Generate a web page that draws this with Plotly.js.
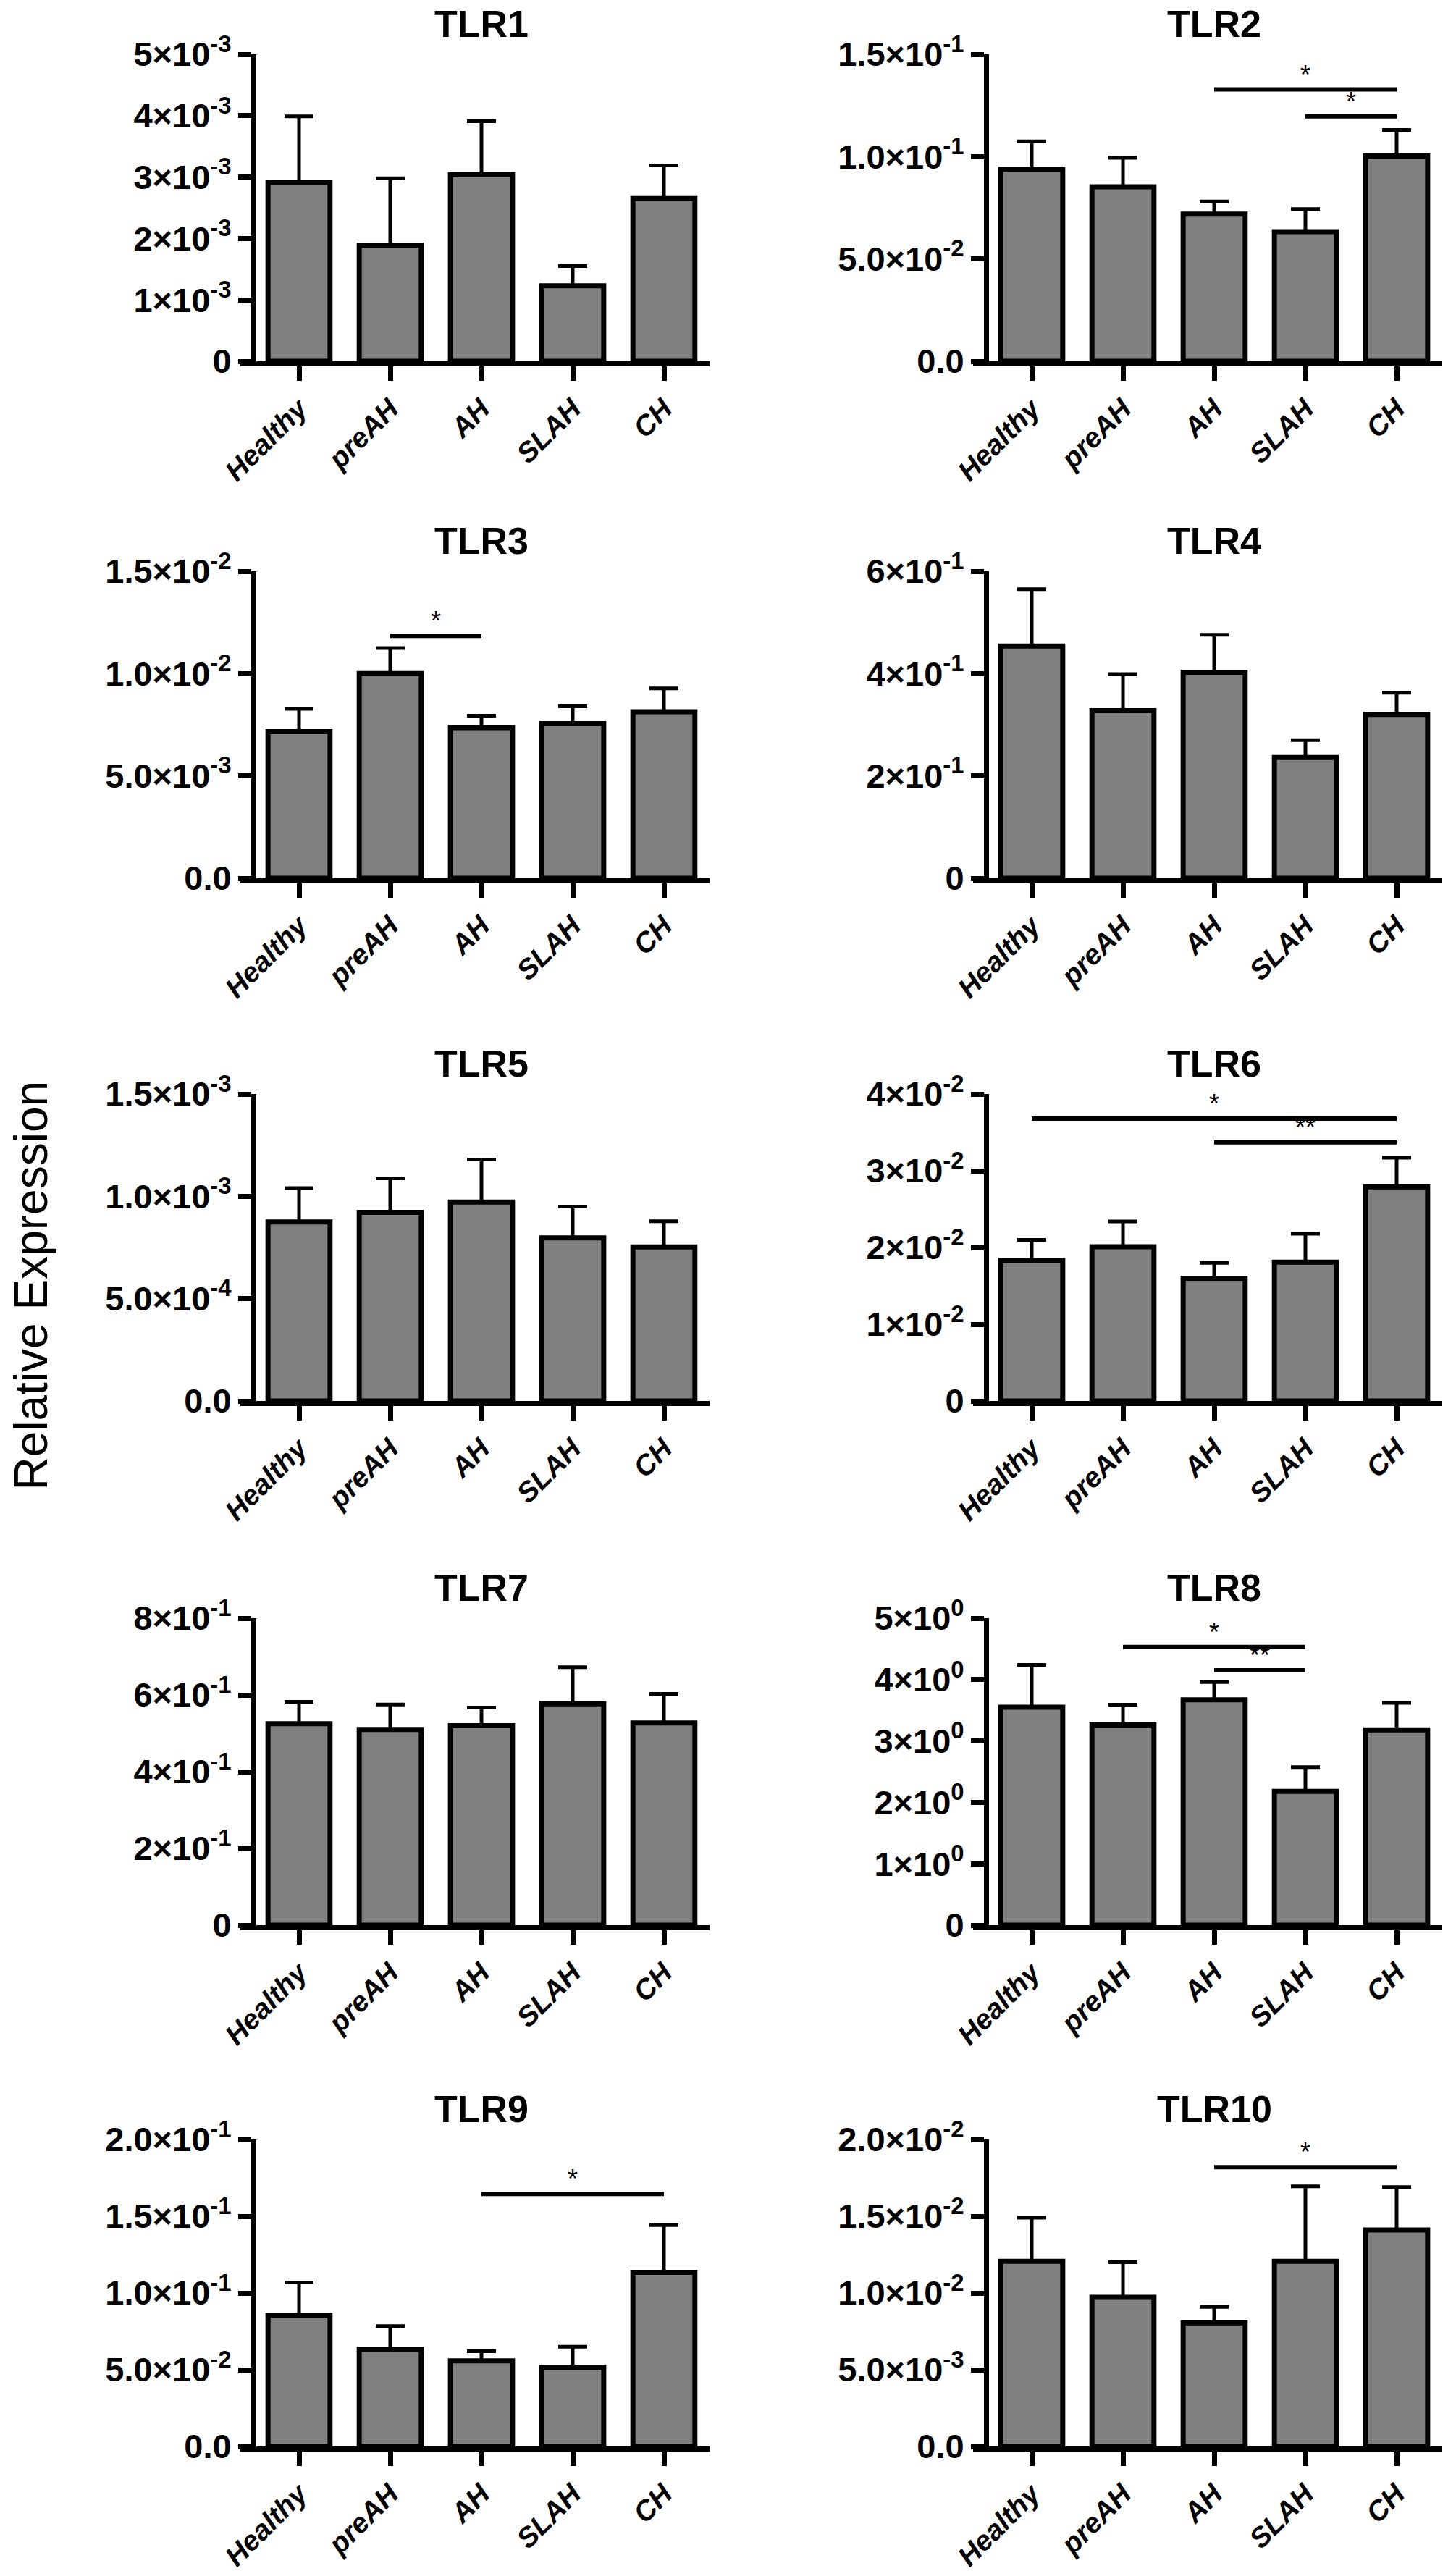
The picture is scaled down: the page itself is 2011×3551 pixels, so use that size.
<!DOCTYPE html>
<html>
<head>
<meta charset="utf-8">
<script src="https://cdn.plot.ly/plotly-3.0.1.min.js"></script>
<style>
  html, body { margin: 0; padding: 0; background: #fff; }
  #gd { width: 2011px; height: 3551px; }
</style>
</head>
<body>
<div id="gd"></div>
<script>
const categories = ['Healthy', 'preAH', 'AH', 'SLAH', 'CH'];

const tlr1Mean = [2.92e-3, 1.89e-3, 3.04e-3, 1.23e-3, 2.65e-3];
const tlr1Err  = [1.07e-3, 1.09e-3, 0.87e-3, 0.32e-3, 0.54e-3];
const tlr2Mean = [0.0938, 0.0853, 0.0719, 0.0633, 0.1003];
const tlr2Err  = [0.0137, 0.0141, 0.0062, 0.0111, 0.0127];
const tlr3Mean = [7.16e-3, 10.0e-3, 7.36e-3, 7.55e-3, 8.14e-3];
const tlr3Err  = [1.12e-3, 1.25e-3, 0.58e-3, 0.85e-3, 1.14e-3];
const tlr4Mean = [0.454, 0.3275, 0.4025, 0.236, 0.32];
const tlr4Err  = [0.111, 0.0715, 0.0735, 0.034, 0.0425];
const tlr5Mean = [0.875e-3, 0.922e-3, 0.972e-3, 0.797e-3, 0.753e-3];
const tlr5Err  = [0.165e-3, 0.166e-3, 0.208e-3, 0.153e-3, 0.125e-3];
const tlr6Mean = [1.83e-2, 2.01e-2, 1.60e-2, 1.81e-2, 2.79e-2];
const tlr6Err  = [0.27e-2, 0.33e-2, 0.20e-2, 0.37e-2, 0.38e-2];
const tlr7Mean = [0.525, 0.51, 0.52, 0.577, 0.527];
const tlr7Err  = [0.057, 0.065, 0.047, 0.095, 0.076];
const tlr8Mean = [3.55, 3.26, 3.67, 2.18, 3.18];
const tlr8Err  = [0.69, 0.33, 0.29, 0.395, 0.44];
const tlr9Mean = [0.0855, 0.0633, 0.0558, 0.0516, 0.1135];
const tlr9Err  = [0.0213, 0.0151, 0.0062, 0.0134, 0.0307];
const tlr10Mean = [12.06e-3, 9.72e-3, 8.05e-3, 12.06e-3, 14.1e-3];
const tlr10Err  = [2.84e-3, 2.28e-3, 1.04e-3, 4.89e-3, 2.8e-3];

// y ticks and their labels
const tlr1Ticks = [0, 1e-3, 2e-3, 3e-3, 4e-3, 5e-3];
const tlr1Labels = ['0', '1×10<sup>-3</sup>', '2×10<sup>-3</sup>', '3×10<sup>-3</sup>', '4×10<sup>-3</sup>', '5×10<sup>-3</sup>'];
const tlr2Ticks = [0, 0.05, 0.1, 0.15];
const tlr2Labels = ['0.0', '5.0×10<sup>-2</sup>', '1.0×10<sup>-1</sup>', '1.5×10<sup>-1</sup>'];
const tlr3Ticks = [0, 5e-3, 1e-2, 1.5e-2];
const tlr3Labels = ['0.0', '5.0×10<sup>-3</sup>', '1.0×10<sup>-2</sup>', '1.5×10<sup>-2</sup>'];
const tlr4Ticks = [0, 0.2, 0.4, 0.6];
const tlr4Labels = ['0', '2×10<sup>-1</sup>', '4×10<sup>-1</sup>', '6×10<sup>-1</sup>'];
const tlr5Ticks = [0, 5e-4, 1e-3, 1.5e-3];
const tlr5Labels = ['0.0', '5.0×10<sup>-4</sup>', '1.0×10<sup>-3</sup>', '1.5×10<sup>-3</sup>'];
const tlr6Ticks = [0, 1e-2, 2e-2, 3e-2, 4e-2];
const tlr6Labels = ['0', '1×10<sup>-2</sup>', '2×10<sup>-2</sup>', '3×10<sup>-2</sup>', '4×10<sup>-2</sup>'];
const tlr7Ticks = [0, 0.2, 0.4, 0.6, 0.8];
const tlr7Labels = ['0', '2×10<sup>-1</sup>', '4×10<sup>-1</sup>', '6×10<sup>-1</sup>', '8×10<sup>-1</sup>'];
const tlr8Ticks = [0, 1, 2, 3, 4, 5];
const tlr8Labels = ['0', '1×10<sup>0</sup>', '2×10<sup>0</sup>', '3×10<sup>0</sup>', '4×10<sup>0</sup>', '5×10<sup>0</sup>'];
const tlr9Ticks = [0, 0.05, 0.1, 0.15, 0.2];
const tlr9Labels = ['0.0', '5.0×10<sup>-2</sup>', '1.0×10<sup>-1</sup>', '1.5×10<sup>-1</sup>', '2.0×10<sup>-1</sup>'];
const tlr10Ticks = [0, 5e-3, 1e-2, 1.5e-2, 2e-2];
const tlr10Labels = ['0.0', '5.0×10<sup>-3</sup>', '1.0×10<sup>-2</sup>', '1.5×10<sup>-2</sup>', '2.0×10<sup>-2</sup>'];

// significance brackets: [from, to, height, mark]
const tlr2Sig = [['AH', 'CH', 0.1328, '*'], ['SLAH', 'CH', 0.1197, '*']];
const tlr3Sig = [['preAH', 'AH', 11.84e-3, '*']];
const tlr6Sig = [['Healthy', 'CH', 3.68e-2, '*'], ['AH', 'CH', 3.37e-2, '**']];
const tlr8Sig = [['preAH', 'SLAH', 4.53, '*'], ['AH', 'SLAH', 4.15, '**']];
const tlr9Sig = [['AH', 'CH', 0.1645, '*']];
const tlr10Sig = [['AH', 'CH', 18.2e-3, '*']];

const panels = [
  {name: 'TLR1', mean: tlr1Mean, err: tlr1Err, ticks: tlr1Ticks, labels: tlr1Labels, sig: []},
  {name: 'TLR2', mean: tlr2Mean, err: tlr2Err, ticks: tlr2Ticks, labels: tlr2Labels, sig: tlr2Sig},
  {name: 'TLR3', mean: tlr3Mean, err: tlr3Err, ticks: tlr3Ticks, labels: tlr3Labels, sig: tlr3Sig},
  {name: 'TLR4', mean: tlr4Mean, err: tlr4Err, ticks: tlr4Ticks, labels: tlr4Labels, sig: []},
  {name: 'TLR5', mean: tlr5Mean, err: tlr5Err, ticks: tlr5Ticks, labels: tlr5Labels, sig: []},
  {name: 'TLR6', mean: tlr6Mean, err: tlr6Err, ticks: tlr6Ticks, labels: tlr6Labels, sig: tlr6Sig},
  {name: 'TLR7', mean: tlr7Mean, err: tlr7Err, ticks: tlr7Ticks, labels: tlr7Labels, sig: []},
  {name: 'TLR8', mean: tlr8Mean, err: tlr8Err, ticks: tlr8Ticks, labels: tlr8Labels, sig: tlr8Sig},
  {name: 'TLR9', mean: tlr9Mean, err: tlr9Err, ticks: tlr9Ticks, labels: tlr9Labels, sig: tlr9Sig},
  {name: 'TLR10', mean: tlr10Mean, err: tlr10Err, ticks: tlr10Ticks, labels: tlr10Labels, sig: tlr10Sig}
];

const W = 2011, H = 3551;
const colAxis = [350, 1362];          // pixel x of each y axis
const plotW = 630;                    // width of 5 category slots
const tickLen = 18;
const rowTop = [75, 789, 1511, 2235, 2955];   // pixel y of top tick
const plotH = 424;

const font = 'Liberation Sans, Arial, sans-serif';
const slot = plotW / 5;

let data = [];
let layout = {
  width: W,
  height: H,
  margin: {l: 0, r: 0, t: 0, b: 0},
  paper_bgcolor: '#fff',
  plot_bgcolor: 'rgba(0,0,0,0)',
  showlegend: false,
  font: {family: font, color: '#000'},
  shapes: [],
  annotations: [{
    text: 'Relative Expression',
    xref: 'paper', yref: 'paper',
    x: 42 / W, y: 0.5,
    xanchor: 'center', yanchor: 'middle',
    textangle: -90,
    showarrow: false,
    font: {family: font, size: 64, color: '#000'}
  }]
};

panels.forEach(function (p, i) {
  const col = i % 2, row = Math.floor(i / 2);
  const n = i + 1;
  const xa = 'x' + n, ya = 'y' + n;
  const axX = colAxis[col];
  const x0 = axX - tickLen, x1 = axX + plotW;
  const top = rowTop[row], bottom = top + plotH;

  data.push({
    type: 'bar',
    x: categories,
    y: p.mean,
    xaxis: xa, yaxis: ya,
    width: 0.68,
    marker: {color: '#808080', line: {color: '#000', width: 7}},
    error_y: {
      type: 'data', symmetric: false,
      array: p.err, arrayminus: p.mean.map(function () { return 0; }),
      color: '#000', thickness: 5, width: 20
    },
    hoverinfo: 'none'
  });

  layout['xaxis' + n] = {
    domain: [x0 / W, x1 / W],
    anchor: ya,
    type: 'category',
    categoryorder: 'array',
    categoryarray: categories,
    range: [-0.5 - tickLen / slot, 4.5],
    showline: true, linewidth: 7, linecolor: '#000',
    ticks: 'outside', ticklen: 20, tickwidth: 7, tickcolor: '#000',
    tickangle: -45,
    tickfont: {family: font, size: 39, color: '#000', weight: 'bold', style: 'italic'},
    showgrid: false, zeroline: false, fixedrange: true
  };
  layout['yaxis' + n] = {
    domain: [1 - bottom / H, 1 - top / H],
    anchor: 'free',
    position: axX / W,
    range: [0, p.ticks[p.ticks.length - 1]],
    tickmode: 'array',
    tickvals: p.ticks,
    ticktext: p.labels,
    showline: true, linewidth: 7, linecolor: '#000',
    ticks: 'outside', ticklen: tickLen, tickwidth: 7, tickcolor: '#000',
    tickfont: {family: font, size: 47, color: '#000', weight: 'bold'},
    showgrid: false, zeroline: false, fixedrange: true
  };

  layout.annotations.push({
    text: '<b>' + p.name + '</b>',
    xref: 'paper', yref: 'paper',
    x: (axX + plotW / 2) / W,
    y: 1 - (top - 42) / H,
    xanchor: 'center', yanchor: 'middle',
    showarrow: false,
    font: {family: font, size: 52, color: '#000'}
  });

  p.sig.forEach(function (s) {
    const a = categories.indexOf(s[0]), b = categories.indexOf(s[1]);
    layout.shapes.push({
      type: 'line', xref: xa, yref: ya,
      x0: a, x1: b, y0: s[2], y1: s[2],
      line: {color: '#000', width: 6}
    });
    layout.annotations.push({
      text: s[3],
      xref: xa, yref: ya,
      x: (a + b) / 2, y: s[2],
      xanchor: 'center', yanchor: 'bottom', yshift: -2,
      showarrow: false,
      font: {family: font, size: 36, color: '#000'}
    });
  });
});

Plotly.newPlot('gd', data, layout, {staticPlot: true});
</script>
</body>
</html>
